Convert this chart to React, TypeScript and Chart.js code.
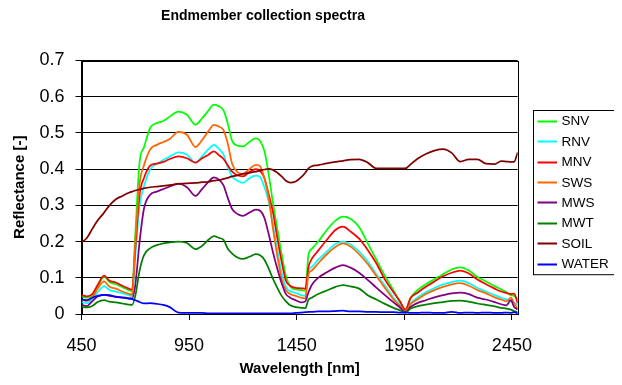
import React, { useEffect, useRef } from "react";
import { Chart, registerables } from "chart.js";

Chart.register(...registerables);

const wavelengths = [
  450, 475, 500, 525, 555, 580, 610, 640, 670, 685,
  700, 720, 740, 770, 800, 830, 860, 900, 940, 980,
  1010, 1040, 1065, 1090, 1110, 1130, 1150, 1175, 1200, 1230,
  1260, 1280, 1300, 1320, 1340, 1360, 1380, 1400, 1420, 1445,
  1470, 1490, 1505, 1520, 1550, 1590, 1630, 1665, 1700, 1740,
  1780, 1820, 1860, 1900, 1930, 1955, 1980, 2010, 2050, 2090,
  2130, 2170, 2210, 2250, 2290, 2330, 2370, 2400, 2425, 2445,
  2460, 2477,
];

const snv = [
  0.049, 0.045, 0.05, 0.075, 0.103, 0.088, 0.082, 0.074, 0.066, 0.063,
  0.22, 0.42, 0.46, 0.515, 0.527, 0.533, 0.545, 0.559, 0.55, 0.523,
  0.54, 0.562, 0.578, 0.573, 0.562, 0.525, 0.478, 0.465, 0.463, 0.475,
  0.485, 0.478, 0.45, 0.385, 0.305, 0.235, 0.165, 0.105, 0.076, 0.068,
  0.066, 0.064, 0.165, 0.18, 0.2, 0.232, 0.258, 0.269, 0.263, 0.24,
  0.195, 0.15, 0.105, 0.065, 0.033, 0.012, 0.045, 0.065, 0.082, 0.096,
  0.11, 0.123, 0.129, 0.12, 0.102, 0.09, 0.077, 0.068, 0.06, 0.052,
  0.05, 0.04,
];

const rnv = [
  0.033, 0.03, 0.04, 0.06, 0.077, 0.066, 0.062, 0.057, 0.052, 0.049,
  0.16, 0.3, 0.352, 0.4, 0.415, 0.425, 0.435, 0.446, 0.44, 0.418,
  0.435, 0.455, 0.467, 0.455, 0.44, 0.405, 0.38, 0.368, 0.362, 0.375,
  0.382, 0.378, 0.35, 0.31, 0.245, 0.175, 0.115, 0.075, 0.063, 0.058,
  0.052, 0.05, 0.12, 0.13, 0.15, 0.172, 0.193, 0.2, 0.192, 0.172,
  0.145, 0.11, 0.078, 0.045, 0.025, 0.01, 0.03, 0.045, 0.06, 0.072,
  0.082, 0.088, 0.092, 0.085, 0.072, 0.062, 0.052, 0.045, 0.04, 0.035,
  0.032, 0.025,
];

const mnv = [
  0.052, 0.049, 0.055, 0.08, 0.106, 0.092, 0.087, 0.078, 0.07, 0.067,
  0.18, 0.33, 0.375, 0.41, 0.415, 0.42, 0.428, 0.435, 0.43, 0.418,
  0.43, 0.44, 0.449, 0.438, 0.428, 0.41, 0.393, 0.383, 0.38, 0.392,
  0.4, 0.395, 0.375, 0.33, 0.28, 0.21, 0.145, 0.092, 0.078, 0.072,
  0.071, 0.07, 0.13, 0.152, 0.175, 0.205, 0.232, 0.241, 0.228, 0.208,
  0.177, 0.14, 0.095, 0.06, 0.035, 0.012, 0.045, 0.058, 0.075, 0.09,
  0.104, 0.114, 0.12, 0.112, 0.095, 0.082, 0.07, 0.062, 0.058, 0.055,
  0.056, 0.03,
];

const sws = [
  0.04, 0.036, 0.045, 0.07, 0.09, 0.075, 0.07, 0.062, 0.056, 0.053,
  0.2, 0.36, 0.41, 0.455, 0.467, 0.475, 0.483, 0.503, 0.495, 0.461,
  0.48, 0.505, 0.522, 0.517, 0.508, 0.47, 0.415, 0.392, 0.387, 0.4,
  0.412, 0.408, 0.375, 0.32, 0.235, 0.16, 0.097, 0.066, 0.055, 0.05,
  0.045, 0.043, 0.11, 0.12, 0.14, 0.165, 0.185, 0.195, 0.186, 0.165,
  0.138, 0.105, 0.072, 0.04, 0.022, 0.008, 0.028, 0.04, 0.055, 0.066,
  0.075, 0.082, 0.085, 0.078, 0.066, 0.057, 0.046, 0.04, 0.035, 0.045,
  0.03, 0.015,
];

const mws = [
  0.025, 0.022, 0.035, 0.048, 0.053, 0.05, 0.048, 0.046, 0.044, 0.043,
  0.08, 0.2, 0.29, 0.33, 0.338, 0.345, 0.352, 0.36, 0.35, 0.326,
  0.345, 0.365, 0.377, 0.37, 0.355, 0.32, 0.29, 0.276, 0.271, 0.28,
  0.288, 0.285, 0.265, 0.22, 0.17, 0.125, 0.085, 0.055, 0.045, 0.038,
  0.032, 0.035, 0.06, 0.08, 0.1, 0.115, 0.128, 0.135, 0.128, 0.114,
  0.094, 0.073, 0.052, 0.032, 0.018, 0.005, 0.02, 0.03, 0.038, 0.046,
  0.052, 0.057, 0.059, 0.055, 0.045, 0.04, 0.033, 0.027, 0.024, 0.038,
  0.02, 0.012,
];

const mwt = [
  0.02, 0.018, 0.022, 0.033, 0.038, 0.034, 0.032, 0.029, 0.026, 0.025,
  0.05, 0.12, 0.162, 0.182, 0.19, 0.195, 0.198, 0.2, 0.196, 0.179,
  0.188, 0.205, 0.215, 0.21, 0.205, 0.18, 0.167, 0.156, 0.152, 0.158,
  0.165, 0.162, 0.15, 0.125, 0.097, 0.072, 0.05, 0.035, 0.024, 0.019,
  0.017, 0.016, 0.04, 0.045, 0.055, 0.065, 0.075, 0.08, 0.076, 0.07,
  0.052, 0.04, 0.028, 0.017, 0.01, 0.004, 0.015, 0.021, 0.026, 0.03,
  0.033, 0.036, 0.037, 0.034, 0.029, 0.025, 0.021, 0.017, 0.015, 0.012,
  0.008, 0.005,
];

const soil = [
  0.198, 0.21, 0.235, 0.258, 0.28, 0.3, 0.317, 0.326, 0.335, 0.338,
  0.341, 0.344, 0.347, 0.35, 0.352, 0.354, 0.356, 0.359, 0.361, 0.362,
  0.364, 0.365, 0.368, 0.37, 0.373, 0.376, 0.38, 0.383, 0.387, 0.39,
  0.393, 0.396, 0.399, 0.401, 0.398, 0.39, 0.38, 0.368, 0.363, 0.366,
  0.377, 0.39, 0.402, 0.408, 0.411, 0.416, 0.42, 0.423, 0.426, 0.427,
  0.418, 0.402, 0.402, 0.402, 0.402, 0.402, 0.414, 0.428, 0.442, 0.451,
  0.455, 0.445, 0.421, 0.427, 0.427, 0.415, 0.414, 0.422, 0.421, 0.42,
  0.42, 0.446,
];

const water = [
  0.041, 0.038, 0.045, 0.05, 0.053, 0.052, 0.047, 0.045, 0.042, 0.041,
  0.038, 0.033, 0.029, 0.03, 0.028, 0.025, 0.019, 0.004, 0.003, 0.003,
  0.003, 0.002, 0.002, 0.002, 0.002, 0.002, 0.002, 0.002, 0.002, 0.002,
  0.002, 0.002, 0.002, 0.002, 0.002, 0.002, 0.002, 0.002, 0.002, 0.003,
  0.004, 0.005, 0.006, 0.006, 0.007, 0.007, 0.008, 0.009, 0.007, 0.007,
  0.006, 0.006, 0.005, 0.005, 0.004, 0.004, 0.003, 0.003, 0.004, 0.003,
  0.003, 0.006, 0.003, 0.004, 0.003, 0.004, 0.003, 0.003, 0.004, 0.003,
  0.005, 0.002,
];

const seriesNames = ["SNV", "RNV", "MNV", "SWS", "MWS", "MWT", "SOIL", "WATER"];
const seriesColors = ["#00FF00", "#00FFFF", "#FF0000", "#FF6600", "#800080", "#008000", "#800000", "#0000FF"];
const xTicks = [450, 950, 1450, 1950, 2450];
const chartTitle = "Endmember collection spectra";
const xTitle = "Wavelength [nm]";
const yTitle = "Reflectance [-]";

const FONT = "'Liberation Sans', Arial, Helvetica, sans-serif";

export default function App() {
  const ref = useRef<HTMLCanvasElement>(null);

  useEffect(() => {
    const canvas = ref.current;
    if (!canvas) return;
    const seriesValues = [snv, rnv, mnv, sws, mws, mwt, soil, water];

    const datasets = seriesNames.map((name, i) => ({
      label: name,
      data: wavelengths.map((w, j) => ({ x: w, y: seriesValues[i][j] })),
      borderColor: seriesColors[i],
      backgroundColor: seriesColors[i],
      borderWidth: 1.75,
      pointRadius: 0,
      pointHoverRadius: 0,
      fill: false,
      cubicInterpolationMode: "monotone" as const,
      order: seriesNames.length - i,
    }));

    const framePlugin = {
      id: "frame",
      beforeDatasetsDraw(chart: any) {
        const { ctx, chartArea } = chart;
        ctx.save();
        ctx.strokeStyle = "#000";
        ctx.lineWidth = 1;
        ctx.strokeRect(
          Math.round(chartArea.left) + 0.5,
          Math.round(chartArea.top) + 0.5,
          Math.round(chartArea.right) - Math.round(chartArea.left),
          Math.round(chartArea.bottom) - Math.round(chartArea.top)
        );
        ctx.restore();
      },
    };

    const titlePlugin = {
      id: "customTitle",
      afterDraw(chart: any) {
        const { ctx, chartArea } = chart;
        ctx.save();
        ctx.fillStyle = "#000";
        ctx.font = `bold 14px ${FONT}`;
        ctx.textAlign = "center";
        ctx.textBaseline = "alphabetic";
        ctx.fillText(chartTitle, 255, 12);
        ctx.font = `bold 15px ${FONT}`;
        ctx.textBaseline = "middle";
        ctx.fillText(xTitle, (chartArea.left + chartArea.right) / 2, 361);
        ctx.restore();
      },
    };

    const legendPlugin = {
      id: "boxLegend",
      afterDraw(chart: any) {
        const { ctx } = chart;
        const left = 525;
        const top = 102;
        const width = 83;
        const rowH = 20.4;
        const height = rowH * seriesNames.length + 1;
        ctx.save();
        ctx.fillStyle = "#fff";
        ctx.fillRect(left, top, width, height);
        ctx.strokeStyle = "#000";
        ctx.lineWidth = 1;
        ctx.strokeRect(left + 0.5, top + 0.5, width, height);
        ctx.font = `13.5px ${FONT}`;
        ctx.textAlign = "left";
        ctx.textBaseline = "middle";
        seriesNames.forEach((name, i) => {
          const cy = top + rowH / 2 + 0.5 + i * rowH;
          ctx.strokeStyle = seriesColors[i];
          ctx.lineWidth = 2;
          ctx.beginPath();
          ctx.moveTo(left + 4.5, Math.round(cy) + 0.5);
          ctx.lineTo(left + 24, Math.round(cy) + 0.5);
          ctx.stroke();
          ctx.fillStyle = "#000";
          ctx.fillText(name, left + 28.5, cy + 1);
        });
        ctx.restore();
      },
    };

    const chart = new Chart(canvas, {
      type: "line",
      data: { datasets: datasets as any },
      options: {
        responsive: false,
        animation: false,
        devicePixelRatio: 1,
        layout: { padding: { top: 52.5, right: 96.3, bottom: 0, left: 0 } },
        plugins: {
          legend: { display: false },
          title: { display: false },
          tooltip: { enabled: false },
        },
        scales: {
          x: {
            type: "linear",
            min: 450,
            max: 2477,
            afterBuildTicks: (scale: any) => {
              scale.ticks = xTicks.map((v) => ({ value: v }));
            },
            afterFit: (scale: any) => {
              scale.height = 63;
            },
            grid: {
              drawOnChartArea: false,
              drawTicks: true,
              tickLength: 6,
              color: "#000",
              lineWidth: 1,
            },
            border: { display: true, color: "#000", width: 1 },
            ticks: {
              color: "#000",
              font: { family: FONT, size: 18 },
              padding: 15,
              maxRotation: 0,
              autoSkip: false,
              callback: (v: any) => String(v),
            },
            title: { display: false },
          },
          y: {
            type: "linear",
            min: 0,
            max: 0.7,
            afterFit: (scale: any) => {
              scale.width = 73.5;
            },
            grid: {
              drawTicks: true,
              tickLength: 6,
              color: "#000",
              lineWidth: 1,
            },
            border: { display: true, color: "#000", width: 1 },
            ticks: {
              stepSize: 0.1,
              color: "#000",
              font: { family: FONT, size: 18 },
              padding: 11,
              callback: (v: any) => String(Math.round(Number(v) * 10) / 10),
            },
            title: {
              display: true,
              text: yTitle,
              color: "#000",
              font: { family: FONT, size: 15, weight: "bold" },
              padding: { top: 3, bottom: 0 },
            },
          },
        },
      },
      plugins: [framePlugin, titlePlugin, legendPlugin],
    });

    return () => chart.destroy();
  }, []);

  return (
    <div style={{ width: 606, height: 369 }}>
      <canvas ref={ref} width={606} height={369} style={{ display: "block", width: 606, height: 369 }} />
    </div>
  );
}
